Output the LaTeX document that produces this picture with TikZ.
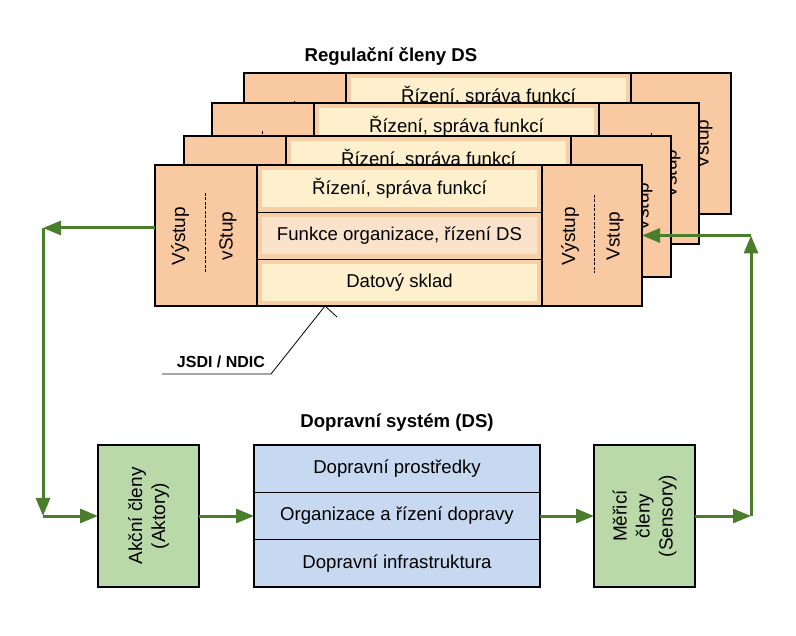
\documentclass[tikz,border=0pt]{standalone}
\usepackage{fontspec}
\setmainfont{Liberation Sans}
\usetikzlibrary{calc}
\usetikzlibrary{positioning}
\usetikzlibrary{arrows.meta}

\definecolor{panelor}{HTML}{F9C9A1}
\definecolor{rowor}{HTML}{F6CFA6}
\definecolor{cream}{HTML}{FEF0CD}
\definecolor{peach}{HTML}{FAE2CB}
\definecolor{dsblue}{HTML}{C6D9F1}
\definecolor{akgreen}{HTML}{B9D9A9}
\definecolor{flowgreen}{HTML}{4A7E2C}

\begin{document}
\begin{tikzpicture}[x=1pt,y=-1pt]

\tikzset{
    panel/.style={draw, line width=1.8pt, fill=panelor, minimum width=#1 pt, minimum height=141pt,
      anchor=north west, inner sep=0pt, outer sep=0pt},
    rot/.style={rotate=90, inner sep=0pt, font=\fontsize{19}{23}\selectfont},
    midrow/.style={draw, line width=0.8pt, fill=rowor, minimum width=285pt, minimum height=47pt,
      inner sep=0pt, outer sep=0pt},
    rowin/.style={fill=#1, minimum width=275pt, minimum height=37pt, inner sep=0pt,
      font=\fontsize{18.6}{22}\selectfont},
    divline/.style={line width=0.9pt, dash pattern=on 3pt off 1.5pt},
    border/.style={line width=1.8pt}
}

\tikzset{
    dsrow/.style={draw, line width=0.8pt, fill=dsblue, minimum width=286pt, minimum height=47.33pt,
      inner sep=0pt, outer sep=0pt, font=\fontsize{18.6}{22}\selectfont},
    greenbox/.style={draw, line width=1.6pt, fill=akgreen, minimum width=101pt, minimum height=142pt,
      inner sep=0pt, outer sep=0pt},
    title/.style={inner sep=0pt, font=\fontsize{18.6}{22}\selectfont\bfseries},
    flow/.style={-{Triangle[length=18pt,width=14pt]}, line width=3pt, draw=flowgreen},
    flowline/.style={line width=3pt, draw=flowgreen}
}

\useasboundingbox (0,0) rectangle (796,636);

%%%%%%%%%%%%%%%%%%%%%%%%%%%%%%%%%%%%%%%%%%%%%%%%%%%%%%%%%
%                  Regulacni cleny (layers)              %
%%%%%%%%%%%%%%%%%%%%%%%%%%%%%%%%%%%%%%%%%%%%%%%%%%%%%%%%%

\node[title] (regt) at (391,57) {Regulační členy DS};

\foreach \i/\dx/\dy in {3/89/-92, 2/57/-62, 1/29/-29, 0/0/0}{
\begin{scope}[shift={(\dx,\dy)}]
  %left panel
  \node[panel=102] (vl\i) at (155,165) {};
  \node[rot] at (180,236) {Výstup};
  \draw[divline] (205,193) -- (205,272);
  \node[rot] at (228,236) {vStup};

  %middle rows
  \node[midrow, anchor=north west] (ra\i) at (257,165) {};
  \node[rowin=cream] at (ra\i) {Řízení, správa funkcí};
  \node[midrow, below=0pt of ra\i] (rb\i) {};
  \node[rowin=peach] at (rb\i) {Funkce organizace, řízení DS};
  \node[midrow, below=0pt of rb\i] (rc\i) {};
  \node[rowin=cream] at (rc\i) {Datový sklad};
  \draw[border] (ra\i.north west) rectangle (rc\i.south east);

  %right panel
  \node[panel=100] (vr\i) at (542,165) {};
  \node[rot] at (570,236) {Výstup};
  \draw[divline] (594,195) -- (594,273);
  \node[rot] at (615,236) {Vstup};
\end{scope}
}

%JSDI / NDIC
\node[inner sep=0pt, font=\fontsize{16}{18}\selectfont\bfseries] (jsdi) at (221,362) {JSDI / NDIC};
\coordinate (ul) at (162,374);
\coordinate (ur) at (271,374);
\coordinate (tip) at (325,306);
\coordinate (tipr) at (337,317);
\draw[line width=0.8pt] (ul) -- (ur) -- (tip) -- (tipr);

%%%%%%%%%%%%%%%%%%%%%%%%%%%%%%%%%%%%%%%%%%%%%%%%%%%%%%%%%
%                  Dopravni system                      %
%%%%%%%%%%%%%%%%%%%%%%%%%%%%%%%%%%%%%%%%%%%%%%%%%%%%%%%%%

\node[dsrow] (ds1) at (397,468.67) {Dopravní prostředky};
\node[dsrow, below=0pt of ds1] (ds2) {Organizace a řízení dopravy};
\node[dsrow, below=0pt of ds2] (ds3) {Dopravní infrastruktura};
\draw[border] (ds1.north west) rectangle (ds3.south east);
\node[title, above=13pt of ds1] (dst) {Dopravní systém (DS)};

%akcni cleny
\node[greenbox, left=55pt of ds2] (akc) {};
\node[rot, align=center] at (akc) {Akční členy\\(Aktory)};

%merici cleny
\node[greenbox, right=54pt of ds2] (mer) {};
\node[rot, align=center] at (mer) {Měřicí\\členy\\(Sensory)};

%left loop
\coordinate (lt) at (43,228);
\coordinate (lb) at (lt |- akc.west);
\draw[flow] (vl0.west |- lt) -- (lt);
\draw[flow] (lt) -- (lb);
\draw[flow] (lb) -- (akc.west);

\draw[flow] (akc.east) -- (ds2.west);
\draw[flow] (ds2.east) -- (mer.west);

%right loop
\coordinate (rb) at ($(mer.east)+(56,0)$);
\coordinate (rt) at (rb |- vr0.east);
\draw[flow] (mer.east) -- (rb);
\draw[flow] (rb) -- (rt);
\draw[flow] (rt) -- (vr0.east);

\end{tikzpicture}
\end{document}
